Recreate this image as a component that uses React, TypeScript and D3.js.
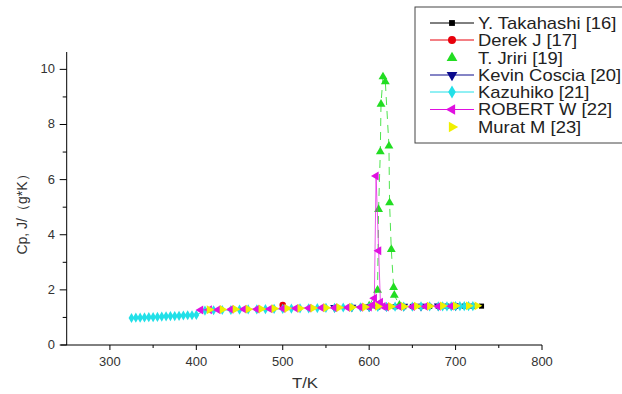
import React from "react";
import * as d3 from "d3";

const takahashiT = [600, 610, 620, 630, 640, 650, 660, 670, 680, 690, 700, 710, 720, 730];
const takahashiV = [1.38, 1.38, 1.39, 1.39, 1.39, 1.4, 1.4, 1.4, 1.4, 1.41, 1.41, 1.41, 1.41, 1.41];

const derekT = [500];
const derekV = [1.45];

const jririT = [600, 609.7, 610.9, 612.9, 613.7, 616, 618.7, 622.9, 623.6, 625.6, 628.3, 629.1, 635];
const jririV = [1.42, 1.99, 4.92, 7.01, 8.74, 9.73, 9.55, 7.22, 5.16, 3.47, 2.09, 1.81, 1.45];

const kevinT = [560, 580, 600, 620, 640, 660, 680, 700];
const kevinV = [1.36, 1.37, 1.38, 1.39, 1.4, 1.4, 1.41, 1.41];

const kazuhikoT = [325, 330, 335, 340, 345, 350, 355, 360, 365, 370, 375, 380, 385, 390, 395, 400,
  410, 420, 430, 440, 450, 460, 470, 480, 490, 500, 510, 520, 530, 540, 550, 560, 570, 580, 590,
  600, 610, 620, 630, 640, 650, 660, 670, 680, 685, 690, 695, 700, 705, 710, 715, 720];
const kazuhikoV = [0.98, 0.99, 0.99, 1.0, 1.01, 1.01, 1.02, 1.03, 1.04, 1.05, 1.05, 1.06, 1.07, 1.08, 1.08, 1.09,
  1.25, 1.26, 1.27, 1.27, 1.28, 1.29, 1.29, 1.3, 1.31, 1.31, 1.32, 1.33, 1.33, 1.34, 1.35, 1.35, 1.36, 1.36, 1.37,
  1.37, 1.38, 1.38, 1.39, 1.39, 1.39, 1.4, 1.4, 1.4, 1.4, 1.4, 1.4, 1.41, 1.41, 1.41, 1.41, 1.41];

const robertT = [405, 415, 425, 440, 455, 470, 485, 500, 515, 530, 545, 560, 575, 590, 600, 604, 606, 608, 611, 613, 616, 620, 635, 650, 665, 680, 695];
const robertV = [1.27, 1.28, 1.28, 1.29, 1.3, 1.3, 1.31, 1.32, 1.33, 1.34, 1.35, 1.35, 1.36, 1.37, 1.38, 1.45, 1.7, 6.13, 3.42, 1.55, 1.4, 1.38, 1.39, 1.39, 1.4, 1.4, 1.41];

const muratT = [415, 430, 445, 460, 475, 490, 505, 520, 535, 550, 565, 580, 595, 610, 625, 640, 655, 670, 685, 700, 715, 725];
const muratV = [1.28, 1.29, 1.3, 1.3, 1.31, 1.32, 1.33, 1.33, 1.34, 1.35, 1.36, 1.37, 1.38, 1.4, 1.4, 1.4, 1.41, 1.41, 1.42, 1.42, 1.42, 1.42];

const xTicks = [300, 400, 500, 600, 700, 800];
const xMinor = [350, 450, 550, 650, 750];
const yTicks = [0, 2, 4, 6, 8, 10];
const yMinor = [1, 3, 5, 7, 9];

type Series = {
  name: string;
  t: number[];
  v: number[];
  color: string;
  shape: "square" | "circle" | "up" | "down" | "diamond" | "left" | "right";
  line: boolean;
  dash?: string;
  legendLine: boolean;
  size: number;
  lineOpacity: number;
};

const series: Series[] = [
  { name: "Y. Takahashi [16]", t: takahashiT, v: takahashiV, color: "#000000", shape: "square", line: true, legendLine: true, size: 26, lineOpacity: 1 },
  { name: "Derek J [17]", t: derekT, v: derekV, color: "#e8000b", shape: "circle", line: true, legendLine: true, size: 34, lineOpacity: 1 },
  { name: "T. Jriri [19]", t: jririT, v: jririV, color: "#22dd22", shape: "up", line: true, dash: "8,6", legendLine: false, size: 34, lineOpacity: 0.8 },
  { name: "Kevin Coscia [20]", t: kevinT, v: kevinV, color: "#0a0a8c", shape: "down", line: true, legendLine: true, size: 34, lineOpacity: 1 },
  { name: "Kazuhiko [21]", t: kazuhikoT, v: kazuhikoV, color: "#22e0e8", shape: "diamond", line: true, legendLine: true, size: 30, lineOpacity: 1 },
  { name: "ROBERT W [22]", t: robertT, v: robertV, color: "#e010e0", shape: "left", line: true, legendLine: true, size: 34, lineOpacity: 0.7 },
  { name: "Murat M [23]", t: muratT, v: muratV, color: "#f0f000", shape: "right", line: false, legendLine: false, size: 34, lineOpacity: 1 },
];

function symbolPath(shape: Series["shape"], size: number): { d: string; rot: number } {
  let type: d3.SymbolType = d3.symbolTriangle;
  let rot = 0;
  if (shape === "square") type = d3.symbolSquare;
  else if (shape === "circle") type = d3.symbolCircle;
  else if (shape === "diamond") type = d3.symbolDiamond;
  else if (shape === "down") rot = 180;
  else if (shape === "left") rot = -90;
  else if (shape === "right") rot = 90;
  const d = d3.symbol().type(type).size(size)() || "";
  return { d, rot };
}

export default function App() {
  const W = 622;
  const H = 394;
  const x = d3.scaleLinear().domain([250, 800]).range([66.7, 542]);
  const y = d3.scaleLinear().domain([0, 10.63]).range([345, 52]);
  const font = "'Liberation Sans', Arial, sans-serif";
  const textColor = "#333";

  const legendX = 415;
  const legendY = 7;
  const rowY = [23, 40, 58, 75, 92, 109.5, 127];

  return (
    <svg width={W} height={H} style={{ position: "absolute", left: 0, top: 0, background: "#fff" }} fontFamily={font}>
      <rect x={0} y={0} width={W} height={H} fill="#fff" />
      {/* axes */}
      <line x1={x(250) - 6} x2={x(800)} y1={y(0)} y2={y(0)} stroke="#000" strokeWidth={1} />
      <line x1={x(250)} x2={x(250)} y1={y(0)} y2={y(10.63)} stroke="#000" strokeWidth={1} />
      {xTicks.map((t) => (
        <g key={"xt" + t}>
          <line x1={x(t)} x2={x(t)} y1={y(0)} y2={y(0) + 5} stroke="#000" />
          <text transform={`translate(${x(t)},366) scale(1.08,1)`} textAnchor="middle" fontSize={12} fill={textColor}>{t}</text>
        </g>
      ))}
      {xMinor.map((t) => (
        <line key={"xm" + t} x1={x(t)} x2={x(t)} y1={y(0)} y2={y(0) + 3} stroke="#000" />
      ))}
      {yTicks.map((v) => (
        <g key={"yt" + v}>
          <line x1={x(250) - 7} x2={x(250)} y1={y(v)} y2={y(v)} stroke="#000" />
          <text transform={`translate(55,${y(v) + 4}) scale(1.08,1)`} textAnchor="end" fontSize={12} fill={textColor}>{v}</text>
        </g>
      ))}
      {yMinor.map((v) => (
        <line key={"ym" + v} x1={x(250) - 4} x2={x(250)} y1={y(v)} y2={y(v)} stroke="#000" />
      ))}
      <text transform="translate(305,388) scale(1.2,1)" textAnchor="middle" fontSize={14} fill={textColor}>T/K</text>
      <text transform={`translate(27,211) rotate(-90)`} textAnchor="middle" fontSize={14} fill={textColor}>Cp,  J/（g*K）</text>

      {/* series */}
      {series.map((s, si) => {
        const pts = s.t.map((t, i) => [x(t), y(s.v[i])] as [number, number]);
        const line = d3.line()(pts) || "";
        const sym = symbolPath(s.shape, s.size);
        return (
          <g key={"s" + si}>
            {s.line && pts.length > 1 && (
              <path d={line} fill="none" stroke={s.color} strokeWidth={1} strokeDasharray={s.dash} strokeOpacity={s.lineOpacity} />
            )}
            {pts.map((p, i) => (
              <path key={i} d={sym.d} transform={`translate(${p[0]},${p[1]}) rotate(${sym.rot})`} fill={s.color} />
            ))}
          </g>
        );
      })}

      {/* legend */}
      <rect x={legendX} y={legendY} width={230} height={136} fill="#fff" stroke="#444" strokeWidth={1} />
      {series.map((s, i) => {
        const sym = symbolPath(s.shape, s.shape === "square" ? 34 : 50);
        const cy = rowY[i];
        return (
          <g key={"l" + i}>
            {s.legendLine && <line x1={430} x2={474} y1={cy} y2={cy} stroke={s.color} strokeWidth={1} />}
            <path d={sym.d} transform={`translate(452,${cy}) rotate(${sym.rot})`} fill={s.color} />
            <text transform={`translate(478,${cy + 5.5}) scale(1.15,1)`} fontSize={16} fill="#222">{s.name}</text>
          </g>
        );
      })}
    </svg>
  );
}
